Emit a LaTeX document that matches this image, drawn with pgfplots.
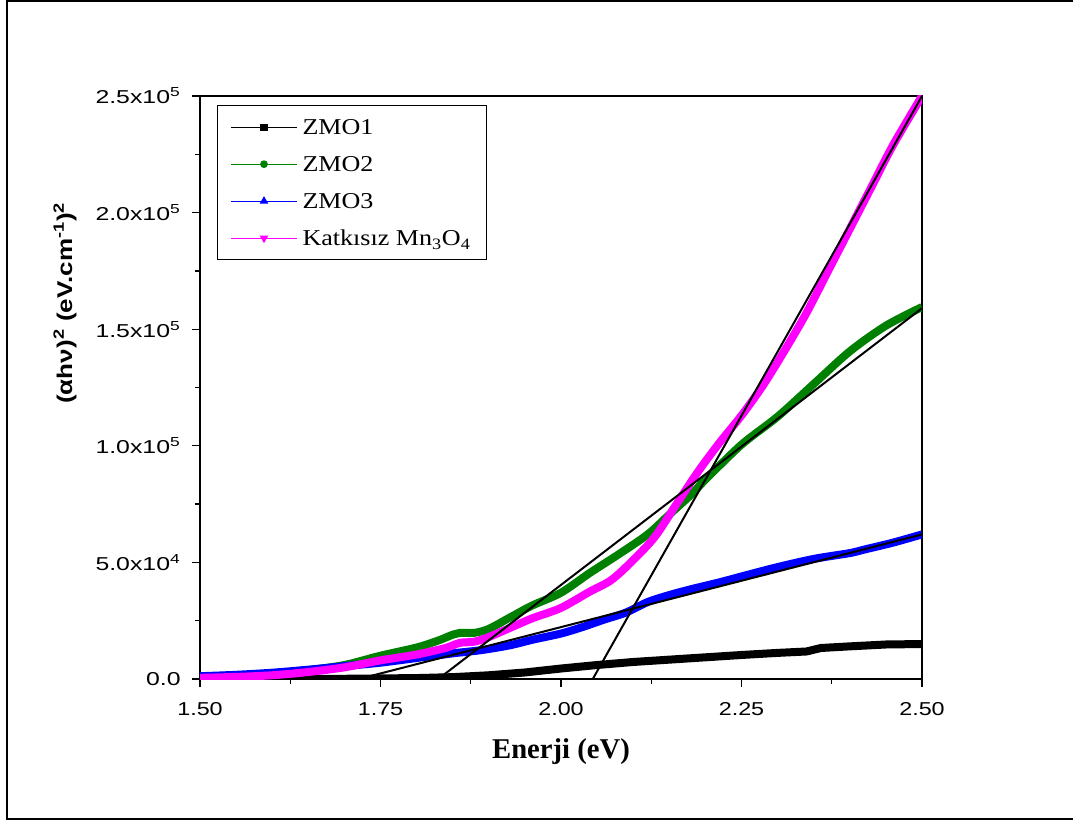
\documentclass[border=0pt]{standalone}
\usepackage{fontspec}
\usepackage{graphicx}
\setmainfont{Liberation Serif}
\newfontfamily\tickfont{Liberation Sans}
\newfontfamily\legfont{Liberation Serif}
\newfontfamily\xlabfont{Liberation Serif}
\newfontfamily\ylabfont{Liberation Sans}
\usepackage{pgfplots}
\pgfplotsset{compat=1.18}
\definecolor{zgreen}{RGB}{0,128,0}
\definecolor{zblue}{RGB}{0,0,255}
\definecolor{zpink}{RGB}{255,0,255}
\newcommand\tkx[1]{\scalebox{1.25}[1]{#1}}
\newcommand\tky[1]{\scalebox{1.33}[1]{#1}}
\newcommand\legt[1]{\hspace{2pt}\rule[-3pt]{0pt}{16pt}\scalebox{1.15}[1]{#1}}

\pgfplotstableread{
x y
1.50 0
1.60 0
1.70 100
1.80 400
1.85 800
1.90 1600
1.95 2800
2.00 4500
2.05 6000
2.10 7300
2.15 8300
2.20 9300
2.25 10300
2.30 11200
2.34 11800
2.36 13300
2.40 14000
2.45 14800
2.50 15000
}\zmoone

\pgfplotstableread{
x y
1.50 1000
1.55 1500
1.60 2300
1.65 3800
1.70 6000
1.75 10000
1.80 13500
1.83 16500
1.85 19000
1.86 19800
1.88 19800
1.90 21500
1.93 26500
1.96 31500
2.00 37000
2.04 45500
2.08 53500
2.12 62000
2.15 70500
2.18 79000
2.20 85500
2.25 100500
2.30 112500
2.35 126500
2.40 140500
2.45 151500
2.50 159500
}\zmotwo

\pgfplotstableread{
x y
1.50 1200
1.55 1800
1.60 2700
1.65 4000
1.70 5500
1.75 7000
1.80 9000
1.85 11000
1.89 12400
1.93 14500
1.96 16800
2.00 19500
2.03 22300
2.06 25500
2.09 28500
2.12 33000
2.15 36000
2.18 38500
2.22 41500
2.26 44800
2.30 48000
2.35 51500
2.40 54000
2.42 55500
2.46 58500
2.50 62000
}\zmothree

\pgfplotstableread{
x y
1.50 500
1.55 900
1.60 1600
1.65 3000
1.70 5000
1.75 8000
1.80 10500
1.84 13300
1.86 15500
1.88 16000
1.90 18000
1.93 22000
1.96 26000
2.00 30500
2.04 37500
2.07 42500
2.10 51000
2.13 61000
2.16 75000
2.19 89000
2.22 101500
2.25 113000
2.28 126000
2.31 141000
2.34 157000
2.37 175000
2.40 193000
2.43 211000
2.46 229000
2.50 250000
}\mno

\begin{document}
\begin{tikzpicture}
\useasboundingbox (0,0) rectangle (804.75pt,616.5pt);
\draw[line width=1.5pt] (805pt,615.75pt) -- (5.25pt,615.75pt) -- (5.25pt,2.25pt) -- (805pt,2.25pt);
\begin{axis}[
  at={(150pt,107.25pt)}, anchor=south west,
  scale only axis, width=541.5pt, height=437.25pt,
  xmin=1.5, xmax=2.5, ymin=0, ymax=250000,
  xtick={1.5,1.75,2,2.25,2.5},
  xticklabels={\tkx{1.50},\tkx{1.75},\tkx{2.00},\tkx{2.25},\tkx{2.50}},
  ytick={0,50000,100000,150000,200000,250000},
  yticklabels={\tky{0.0},\tky{5.0x10\textsuperscript{4}},\tky{1.0x10\textsuperscript{5}},\tky{1.5x10\textsuperscript{5}},\tky{2.0x10\textsuperscript{5}},\tky{2.5x10\textsuperscript{5}}},
  scaled y ticks=false, scaled x ticks=false,
  minor x tick num=1, minor y tick num=1,
  tick align=outside, xtick pos=bottom, ytick pos=left,
  major tick length=6pt, minor tick length=4pt,
  every tick/.style={black, line width=1pt},
  axis line style={line width=1pt},
  ticklabel style={font=\tickfont\fontsize{14pt}{16pt}\selectfont},
  xticklabel style={yshift=-8pt},
  yticklabel style={xshift=-5pt},
  xlabel={Enerji (eV)},
  xlabel style={font=\xlabfont\bfseries\fontsize{21.5pt}{24pt}\selectfont, at={(axis description cs:0.5,-0.1355)}, anchor=base},
  ylabel={\scalebox{1.22}[1]{(αhν)\textsuperscript{2} (eV.cm\textsuperscript{-1})\textsuperscript{2}}},
  ylabel style={font=\ylabfont\bfseries\fontsize{16pt}{18pt}\selectfont, at={(axis description cs:-0.177,0.645)}, anchor=base},
  legend image code/.code={\draw[mark repeat=2,mark phase=2,#1] plot coordinates {(0pt,0pt) (24.5pt,0pt) (49pt,0pt)};},
  legend style={at={(axis description cs:0.0235,0.9846)}, anchor=north west, draw=black, line width=0.8pt,
    font=\legfont\fontsize{17pt}{19pt}\selectfont, row sep=9.25pt, inner xsep=10pt, inner ysep=7pt,
    cells={anchor=west, inner sep=2pt}},
]
\addlegendimage{draw=black, fill=black, line width=0.75pt, mark=square*, mark size=2.3pt}
\addlegendentry{\legt{ZMO1}}
\addlegendimage{draw=zgreen, fill=zgreen, line width=0.75pt, mark=*, mark size=2.5pt}
\addlegendentry{\legt{ZMO2}}
\addlegendimage{draw=zblue, fill=zblue, line width=0.75pt, mark=triangle*, mark size=3pt}
\addlegendentry{\legt{ZMO3}}
\addlegendimage{draw=zpink, fill=zpink, line width=0.75pt, mark=triangle*, mark options={rotate=180}, mark size=3pt}
\addlegendentry{\legt{Katkısız Mn\textsubscript{3}O\textsubscript{4}}}

\addplot[forget plot, black, line width=6pt, line join=round] table {\zmoone};
\addplot[forget plot, zgreen, line width=6pt, line join=round, smooth] table {\zmotwo};
\addplot[forget plot, zblue, line width=6pt, line join=round, smooth] table {\zmothree};
\addplot[forget plot, zpink, line width=6pt, line join=round, smooth] table {\mno};

\addplot[forget plot, black, line width=1.5pt] coordinates {(1.83,0) (2.5,16000)};
\addplot[forget plot, black, line width=1.5pt] coordinates {(1.72,0) (2.5,62000)};
\addplot[forget plot, black, line width=1.5pt] coordinates {(1.83,0) (2.5,159000)};
\addplot[forget plot, black, line width=1.5pt] coordinates {(2.044,0) (2.5,250000)};
\end{axis}
\end{tikzpicture}
\end{document}
